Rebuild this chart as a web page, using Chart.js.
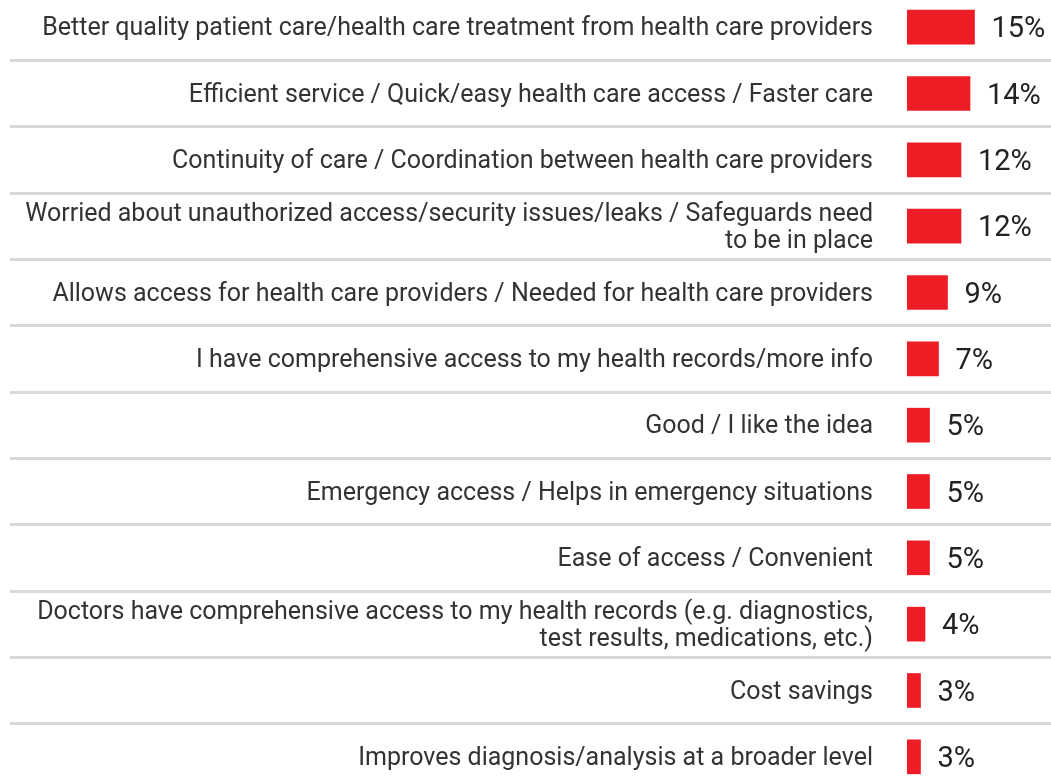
<!DOCTYPE html>
<html>
<head>
<meta charset="utf-8">
<script src="https://cdn.jsdelivr.net/npm/chart.js@4/dist/chart.umd.min.js"></script>
<style>
  html, body { margin: 0; padding: 0; background: #fff; }
  #wrap { width: 1051px; height: 781px; position: relative; overflow: hidden; }
  /* first and last rows run slightly past the page edges */
  #inner { position: absolute; left: 0; top: -6px; width: 1051px; height: 796px; }
</style>
</head>
<body>
<div id="wrap"><div id="inner"><canvas id="reasonsChart"></canvas></div></div>
<script>
// Reasons given, one row each (long ones split over two lines)
const reasonLabels = [
    "Better quality patient care/health care treatment from health care providers",
    "Efficient service / Quick/easy health care access / Faster care",
    "Continuity of care / Coordination between health care providers",
    ["Worried about unauthorized access/security issues/leaks / Safeguards need", "to be in place"],
    "Allows access for health care providers / Needed for health care providers",
    "I have comprehensive access to my health records/more info",
    "Good / I like the idea",
    "Emergency access / Helps in emergency situations",
    "Ease of access / Convenient",
    ["Doctors have comprehensive access to my health records (e.g. diagnostics,", "test results, medications, etc.)"],
    "Cost savings",
    "Improves diagnosis/analysis at a broader level"
];

// Share of respondents (%)
const reasonShares = [15, 14, 12, 12, 9, 7, 5, 5, 5, 4, 3, 3];

const labelFont = "Roboto, 'Noto Sans', sans-serif";

// Percent text just right of each bar
const valueLabels = {
    id: "valueLabels",
    afterDatasetsDraw(chart) {
        const ctx = chart.ctx;
        const meta = chart.getDatasetMeta(0);
        ctx.save();
        ctx.font = "29px " + labelFont;
        ctx.fillStyle = "#222";
        ctx.textAlign = "left";
        ctx.textBaseline = "middle";
        meta.data.forEach((bar, i) => {
            ctx.fillText(reasonShares[i] + "%", bar.x + 17, bar.y + 3);
        });
        ctx.restore();
    }
};

new Chart(document.getElementById("reasonsChart"), {
    type: "bar",
    data: {
        labels: reasonLabels,
        datasets: [{
            data: reasonShares,
            backgroundColor: "#ee1c25",
            barThickness: 34
        }]
    },
    options: {
        indexAxis: "y",
        responsive: true,
        maintainAspectRatio: false,
        animation: false,
        layout: { padding: 0 },
        plugins: {
            legend: { display: false },
            tooltip: { enabled: false }
        },
        scales: {
            x: {
                display: false,
                min: 0,
                max: 32
            },
            y: {
                // long tick marks carry the row separators across the label area
                grid: {
                    offset: true,
                    color: "#d9d9d9",
                    lineWidth: 3,
                    drawTicks: true,
                    tickLength: 897
                },
                border: { display: false },
                ticks: {
                    autoSkip: false,
                    padding: 34 - 897,
                    labelOffset: 2,
                    color: "#333",
                    font: { family: labelFont, size: 25, lineHeight: 1.05 }
                },
                afterFit(scale) {
                    scale.width = 907;
                }
            }
        }
    },
    plugins: [valueLabels]
});
</script>
</body>
</html>
